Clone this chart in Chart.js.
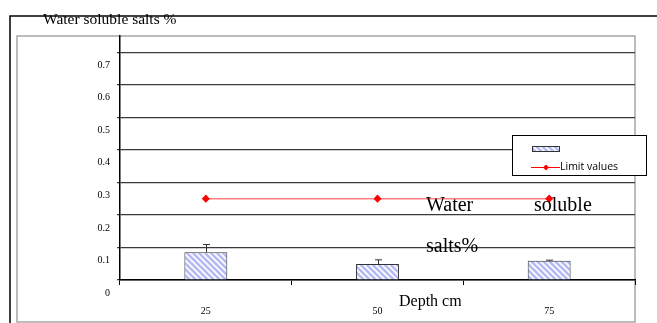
<!DOCTYPE html>
<html>
<head>
<meta charset="utf-8">
<script src="https://cdn.jsdelivr.net/npm/chart.js@4.4.1/dist/chart.umd.min.js"></script>
<style>
    html, body { margin: 0; padding: 0; background: #fff; }
    #wrap { width: 657px; height: 323px; position: relative; }
</style>
</head>
<body>
<div id="wrap"><canvas id="saltChart" width="657" height="323"></canvas></div>
<script>
// Data
const depthLabels = ['25', '50', '75'];
const saltValues = [0.085, 0.049, 0.059];
const saltErrors = [0.024, 0.013, 0.002];
const limitValues = [0.25, 0.25, 0.25];
const yMax = 0.75;
const yStep = 0.1;

const serif = '"Liberation Serif", "Times New Roman", serif';

// Diagonal hatch fill for the bars
function makeHatch() {
    const c = document.createElement('canvas');
    c.width = 6;
    c.height = 6;
    const g = c.getContext('2d');
    g.fillStyle = '#ffffff';
    g.fillRect(0, 0, 6, 6);
    g.strokeStyle = '#b4baf4';
    g.lineWidth = 2.6;
    g.beginPath();
    g.moveTo(-1, -1); g.lineTo(7, 7);
    g.moveTo(-4, 2); g.lineTo(4, 10);
    g.moveTo(2, -4); g.lineTo(10, 4);
    g.stroke();
    return g.createPattern(c, 'repeat');
}

const hatch = makeHatch();

// Frames, title and floating texts
const decorPlugin = {
    id: 'decor',
    beforeDraw(chart) {
        const ctx = chart.ctx;
        ctx.save();
        ctx.fillStyle = '#fff';
        ctx.fillRect(0, 0, chart.width, chart.height);
        ctx.strokeStyle = '#000';
        ctx.lineWidth = 1.5;
        ctx.beginPath();
        ctx.moveTo(10, 323);
        ctx.lineTo(10, 16);
        ctx.lineTo(657, 16);
        ctx.stroke();
        ctx.strokeStyle = '#a6a6a6';
        ctx.lineWidth = 1.5;
        ctx.strokeRect(17, 36, 618, 286);
        ctx.restore();
    },
    afterDraw(chart) {
        const ctx = chart.ctx;
        ctx.save();
        ctx.fillStyle = '#000';
        ctx.textBaseline = 'alphabetic';
        ctx.textAlign = 'left';
        ctx.font = '15.5px ' + serif;
        ctx.fillText('Water soluble salts %', 43, 24);
        ctx.font = '20px ' + serif;
        ctx.fillText('Water', 426, 211);
        ctx.fillText('soluble', 534, 211);
        ctx.fillText('salts%', 426, 252);
        ctx.font = '16px ' + serif;
        ctx.fillText('Depth cm', 399, 306);

        // legend box
        ctx.fillStyle = '#fff';
        ctx.fillRect(512, 135, 134, 40);
        ctx.strokeStyle = '#000';
        ctx.lineWidth = 1;
        ctx.strokeRect(512.5, 135.5, 134, 40);
        ctx.fillStyle = hatch;
        ctx.fillRect(532, 146, 27, 5);
        ctx.strokeStyle = '#333';
        ctx.strokeRect(532.5, 146.5, 27, 5);
        ctx.strokeStyle = '#ff0000';
        ctx.lineWidth = 1;
        ctx.beginPath();
        ctx.moveTo(531, 167.5);
        ctx.lineTo(560, 167.5);
        ctx.stroke();
        ctx.fillStyle = '#ff0000';
        ctx.beginPath();
        ctx.moveTo(546, 164.5);
        ctx.lineTo(549, 167.5);
        ctx.lineTo(546, 170.5);
        ctx.lineTo(543, 167.5);
        ctx.closePath();
        ctx.fill();
        ctx.fillStyle = '#000';
        ctx.font = '10.5px "Open Sans", "Liberation Sans", sans-serif';
        ctx.textBaseline = 'middle';
        ctx.fillText('Limit values', 560, 167);
        ctx.restore();
    }
};

// Upward error bars with a cap
const errorBarPlugin = {
    id: 'errorBars',
    afterDatasetsDraw(chart) {
        const meta = chart.getDatasetMeta(0);
        const y = chart.scales.y;
        const ctx = chart.ctx;
        ctx.save();
        ctx.strokeStyle = '#333';
        ctx.lineWidth = 1;
        meta.data.forEach((bar, i) => {
            const top = y.getPixelForValue(saltValues[i] + saltErrors[i]);
            const x = Math.round(bar.x) + 0.5;
            ctx.beginPath();
            ctx.moveTo(x, bar.y);
            ctx.lineTo(x, top);
            ctx.moveTo(x - 3.5, top);
            ctx.lineTo(x + 3.5, top);
            ctx.stroke();
        });
        ctx.restore();
    }
};

const ctx = document.getElementById('saltChart').getContext('2d');
new Chart(ctx, {
    type: 'bar',
    data: {
        labels: depthLabels,
        datasets: [
            {
                label: '',
                data: saltValues,
                backgroundColor: hatch,
                borderColor: '#333',
                borderWidth: 1,
                categoryPercentage: 1,
                barPercentage: 0.25,
                order: 2
            },
            {
                type: 'line',
                label: 'Limit values',
                data: limitValues,
                borderColor: '#ff8080',
                borderWidth: 1.5,
                pointStyle: 'rectRot',
                pointRadius: 3,
                pointBackgroundColor: '#ff0000',
                pointBorderColor: '#ff0000',
                order: 1
            }
        ]
    },
    options: {
        responsive: false,
        animation: false,
        layout: { padding: { left: 0, right: 22, top: 36, bottom: 0 } },
        plugins: {
            legend: { display: false },
            tooltip: { enabled: false }
        },
        scales: {
            x: {
                offset: true,
                afterFit: scale => { scale.height = 43; },
                border: { color: '#000', width: 1.5 },
                grid: { drawOnChartArea: false, offset: true, tickLength: 5, color: '#000' },
                ticks: {
                    padding: 20,
                    color: '#000',
                    font: { family: serif, size: 10 }
                }
            },
            y: {
                min: 0,
                max: yMax,
                afterFit: scale => { scale.width = 120; },
                afterBuildTicks: axis => {
                    axis.ticks = axis.ticks.filter(t => t.value <= 0.7 + 1e-9);
                },
                border: { color: '#000', width: 1.5 },
                grid: { color: '#3a3a3a', lineWidth: 1.2, tickLength: 3 },
                ticks: {
                    stepSize: yStep,
                    padding: 7,
                    labelOffset: 13,
                    color: '#000',
                    font: { family: serif, size: 10 },
                    callback: v => (Math.round(v * 10) / 10).toString()
                }
            }
        }
    },
    plugins: [decorPlugin, errorBarPlugin]
});
</script>
</body>
</html>
